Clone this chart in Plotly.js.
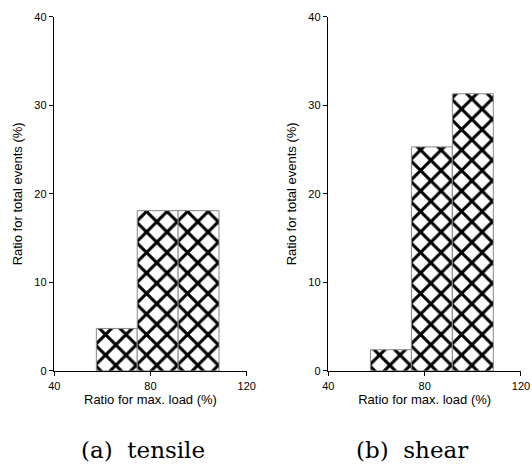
<!DOCTYPE html>
<html><head><meta charset="utf-8">
<script src="https://cdn.plot.ly/plotly-3.0.1.min.js"></script>
<style>body{margin:0;padding:0;background:#fff}#c{width:532px;height:465px}</style>
</head><body><div id="c"></div>
<script>
const binCenters = [66, 83, 100];
const binWidth = 17;
const tensile = [4.8, 18.1, 18.1];
const shear = [2.4, 25.3, 31.3];
const xTicks = [40, 80, 120];
const yTicks = [0, 10, 20, 30, 40];
const captions = ['(a)  tensile', '(b)  shear'];

const pattern = {shape: 'x', size: 14.5, solidity: 0.38, fgcolor: '#000', fgopacity: 1, bgcolor: '#fff'};
function barTrace(y, xa, ya){
  return {type:'bar', x: binCenters, y: y, width: binWidth, xaxis: xa, yaxis: ya,
    marker:{color:'#fff', pattern: pattern, line:{color:'#888', width:1}}, showlegend:false, hoverinfo:'none'};
}
const tickFont = {family:'Liberation Sans, Arial, sans-serif', size:11, color:'#000'};
const titleFont = {family:'Liberation Sans, Arial, sans-serif', size:13, color:'#000'};
function xax(domain, anchor){
  return {domain: domain, anchor: anchor, range:[40,120], tickvals:xTicks, ticks:'outside', ticklen:4, tickcolor:'#000',
    showline:true, linecolor:'#000', linewidth:1.5, showgrid:false, zeroline:false, tickfont:tickFont,
    title:{text:'Ratio for max. load (%)', font:titleFont, standoff:3}};
}
function yax(domain, anchor){
  return {domain: domain, anchor: anchor, range:[0,40], tickvals:yTicks, ticks:'outside', ticklen:4, tickcolor:'#000',
    showline:true, linecolor:'#000', linewidth:1.5, showgrid:false, zeroline:false, tickfont:tickFont,
    title:{text:'Ratio for total events (%)', font:titleFont, standoff:9}};
}
const yd = [0.2022, 0.9641];
const capFont = {family:'DejaVu Serif, Liberation Serif, serif', size:23, color:'#000'};
const layout = {
  width:532, height:465, margin:{l:0,r:0,t:0,b:0}, paper_bgcolor:'#fff', plot_bgcolor:'#fff',
  bargap:0,
  xaxis: xax([0.102, 0.4637], 'y'),
  yaxis: yax(yd, 'x'),
  xaxis2: xax([0.6171, 0.9793], 'y2'),
  yaxis2: yax(yd, 'x2'),
  annotations: [
    {text: captions[0], xref:'paper', yref:'paper', x:143/532, y:0.002, showarrow:false, yanchor:'bottom', xanchor:'center', borderpad:0, font:capFont},
    {text: captions[1], xref:'paper', yref:'paper', x:412/532, y:0.002, showarrow:false, yanchor:'bottom', xanchor:'center', borderpad:0, font:capFont}
  ]
};
Plotly.newPlot('c', [barTrace(tensile,'x','y'), barTrace(shear,'x2','y2')], layout, {staticPlot:true});
</script></body></html>
